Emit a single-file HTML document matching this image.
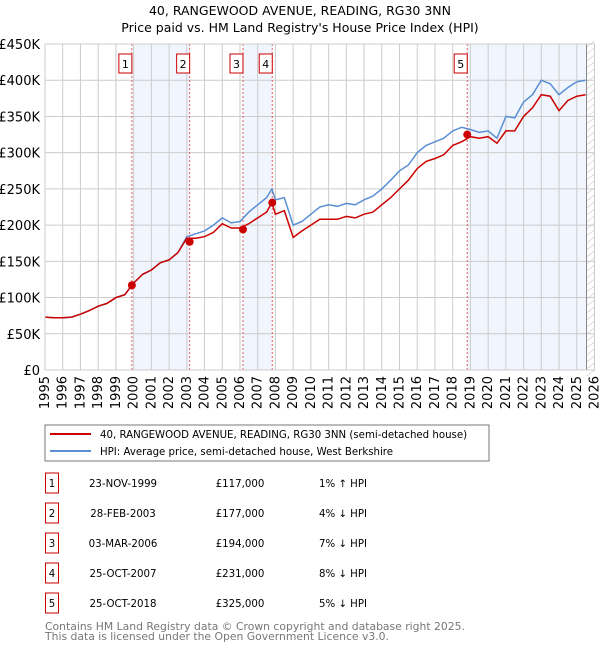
<!DOCTYPE html>
<html><head><meta charset="utf-8"><style>
body{margin:0;background:#fff;}
svg{display:block;font-family:"DejaVu Sans","Liberation Sans",sans-serif;}
</style></head><body>
<svg id="c" width="600" height="650" xmlns="http://www.w3.org/2000/svg">
<text x="300" y="15" text-anchor="middle" font-size="12.5">40, RANGEWOOD AVENUE, READING, RG30 3NN</text>
<text x="300" y="32" text-anchor="middle" font-size="12.5">Price paid vs. HM Land Registry's House Price Index (HPI)</text>
<g id="plot"></g>
<rect x="45" y="425" width="444" height="36" fill="#fff" stroke="#777"/>
<line x1="50" y1="434" x2="91" y2="434" stroke="#cc0000" stroke-width="2"/>
<text x="100" y="438" font-size="10.2">40, RANGEWOOD AVENUE, READING, RG30 3NN (semi-detached house)</text>
<line x1="50" y1="451" x2="91" y2="451" stroke="#5b8fd4" stroke-width="2"/>
<text x="100" y="455" font-size="10.2">HPI: Average price, semi-detached house, West Berkshire</text>
<g id="table"></g>
<text x="45" y="630" font-size="10.8" fill="#777">Contains HM Land Registry data © Crown copyright and database right 2025.</text>
<text x="45" y="640" font-size="10.8" fill="#777">This data is licensed under the Open Government Licence v3.0.</text>
</svg>
<script>
const years=[1995,1995.5,1996,1996.5,1997,1997.5,1998,1998.5,1999,1999.5,2000,2000.5,2001,2001.5,2002,2002.5,2003,2003.5,2004,2004.5,2005,2005.5,2006,2006.5,2007,2007.5,2007.8,2008,2008.5,2009,2009.5,2010,2010.5,2011,2011.5,2012,2012.5,2013,2013.5,2014,2014.5,2015,2015.5,2016,2016.5,2017,2017.5,2018,2018.5,2019,2019.5,2020,2020.5,2021,2021.5,2022,2022.5,2023,2023.5,2024,2024.5,2025,2025.5];
const hpi=[73,72,72,73,77,82,88,92,100,104,120,132,138,148,152,162,184,188,192,200,210,203,205,218,228,238,250,235,238,200,205,215,225,228,226,230,228,235,240,250,262,275,283,300,310,315,320,330,335,332,328,330,320,350,348,370,380,400,395,380,390,398,400];
const prop=[73,72,72,73,77,82,88,92,100,104,120,132,138,148,152,162,182,182,184,190,202,196,196,202,210,218,231,215,220,183,192,200,208,208,208,212,210,215,218,228,238,250,262,278,288,292,297,310,315,322,320,322,313,330,330,350,362,380,378,358,372,378,380];
const saleYears=[1999.9,2003.16,2006.17,2007.82,2018.82];
const salePrices=[117,177,194,231,325];
const saleLabels=["1","2","3","4","5"];
const saleDates=["23-NOV-1999","28-FEB-2003","03-MAR-2006","25-OCT-2007","25-OCT-2018"];
const salePriceText=["£117,000","£177,000","£194,000","£231,000","£325,000"];
const saleHpiText=["1% ↑ HPI","4% ↓ HPI","7% ↓ HPI","8% ↓ HPI","5% ↓ HPI"];
const yTicks=[0,50,100,150,200,250,300,350,400,450];
const yTickLabels=["£0","£50K","£100K","£150K","£200K","£250K","£300K","£350K","£400K","£450K"];
const xTicks=[1995,1996,1997,1998,1999,2000,2001,2002,2003,2004,2005,2006,2007,2008,2009,2010,2011,2012,2013,2014,2015,2016,2017,2018,2019,2020,2021,2022,2023,2024,2025,2026];

const X0=45,X1=594.5,Y0=370,Y1=44;
const xs=y=>X0+(y-1995)/(2026-1995)*(X1-X0);
const ys=v=>Y0-v/450*(Y0-Y1);
const NS="http://www.w3.org/2000/svg";
function mk(p,tag,at){const e=document.createElementNS(NS,tag);for(const k in at)e.setAttribute(k,at[k]);p.appendChild(e);return e;}
const g=document.getElementById('plot');
const shades=[[0,1],[2,3],[4,null]];
shades.forEach((s,i)=>{const a=xs(saleYears[s[0]]);const b=s[1]===null?xs(2025.55):xs(saleYears[s[1]]);
const r=mk(g,'rect',{x:a,y:Y1,width:b-a,height:Y0-Y1,fill:'#f1f5fd'});

});
const hx=xs(2025.55);
const hr=mk(g,'rect',{x:hx,y:Y1,width:X1-hx,height:Y0-Y1,fill:'#fff'});


for(let yy=Y1;yy<Y0+10;yy+=7){mk(g,'line',{x1:hx,y1:yy+3,x2:X1,y2:yy-3,stroke:'#ccc','stroke-width':0.7});}
yTicks.forEach((v,i)=>{const l=mk(g,'line',{x1:X0,y1:ys(v),x2:X1,y2:ys(v),stroke:'#ccc','stroke-width':1});


const t=mk(g,'text',{x:40,y:ys(v)+5,'text-anchor':'end','font-size':13});t.textContent=yTickLabels[i];

});
xTicks.forEach(v=>{const l=mk(g,'line',{x1:xs(v),y1:Y1,x2:xs(v),y2:Y0,stroke:'#ccc','stroke-width':1});


const x=xs(v)+4,y=Y0+6;const t=mk(g,'text',{x:x,y:y,'text-anchor':'end','font-size':13,transform:`rotate(-90 ${x} ${y})`});t.textContent=v;

});
mk(g,'line',{x1:hx,y1:Y1,x2:hx,y2:Y0,stroke:'#888','stroke-width':1});
saleYears.forEach((v,i)=>{const l=mk(g,'line',{x1:xs(v),y1:Y1,x2:xs(v),y2:Y0,stroke:'#e06060','stroke-width':1,'stroke-dasharray':'2,2'});


const r=mk(g,'rect',{x:xs(v)-13,y:54,width:13,height:19,fill:'#fff',stroke:'#cc0000'});


const t=mk(g,'text',{x:xs(v)-6.5,y:68,'text-anchor':'middle','font-size':11});t.textContent=saleLabels[i];

});
function path(arr){return arr.map((v,i)=>(i?'L':'M')+xs(years[i]).toFixed(1)+','+ys(v).toFixed(1)).join('');}
const hl=mk(g,'path',{d:path(hpi),fill:'none',stroke:'#5b8fd4','stroke-width':1.5});


const pl=mk(g,'path',{d:path(prop),fill:'none',stroke:'#cc0000','stroke-width':1.5});


saleYears.forEach((v,i)=>{const c=mk(g,'circle',{cx:xs(v),cy:ys(salePrices[i]),r:4,fill:'#cc0000'});

});
mk(g,'rect',{x:X0,y:Y1,width:X1-X0,height:Y0-Y1,fill:'none',stroke:'#ccc'});
const tb=document.getElementById('table');
saleLabels.forEach((s,i)=>{const cy=483+i*30;
const r=mk(tb,'rect',{x:45.5,y:cy-10,width:13,height:20,fill:'#fff',stroke:'#cc0000'});


const cells=[[52,s],[123,saleDates[i]],[240,salePriceText[i]],[343,saleHpiText[i]]];
cells.forEach(c=>{const t=mk(tb,'text',{x:c[0],y:cy+4,'text-anchor':'middle','font-size':10.2});t.textContent=c[1];

});});
</script>
</body></html>
